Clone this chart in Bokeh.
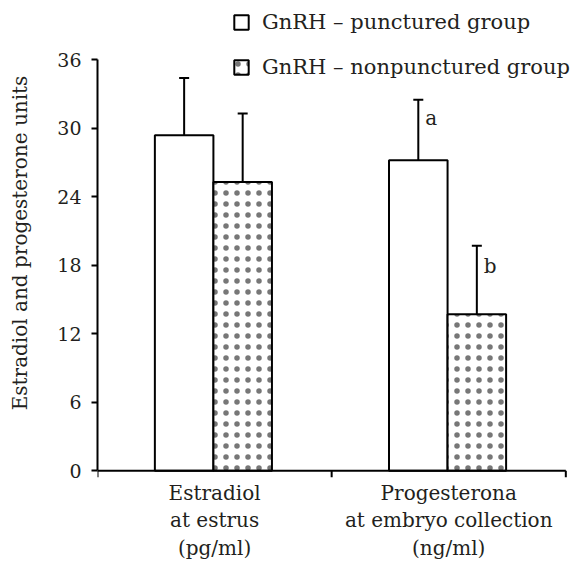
from bokeh.plotting import figure
from bokeh.models import (ColumnDataSource, FixedTicker, Range1d, Legend,
                          LegendItem, Whisker, TeeHead)
from bokeh.core.properties import value
from bokeh.embed import file_html
from bokeh.resources import INLINE

# ---- data ----
groups = ["Estradiol\nat estrus\n(pg/ml)", "Progesterona\nat embryo collection\n(ng/ml)"]
punctured = [29.4, 27.2]
punctured_err = [5.0, 5.3]
nonpunctured = [25.3, 13.7]
nonpunctured_err = [6.0, 6.0]
punctured_sig = ["", "a"]
nonpunctured_sig = ["", "b"]
y_ticks = [0, 6, 12, 18, 24, 30, 36]
y_max = 36
y_title = "Estradiol and progesterone units"
series_names = ["GnRH – punctured group", "GnRH – nonpunctured group"]

FONT = "DejaVu Serif"
TXT = "#231f20"
BW = 0.25
TICK = 0.6  # x-axis tick length in data units

n = len(groups)
idx = list(range(n))
x_p = [i + 0.5 - 0.13 for i in idx]
x_n = [i + 0.5 + 0.12 for i in idx]

src_p = ColumnDataSource(dict(x=x_p, top=punctured, up=[v + e for v, e in zip(punctured, punctured_err)],
                              sig=punctured_sig, sx=[x + 0.03 for x in x_p],
                              sy=[v + e - 1.6 for v, e in zip(punctured, punctured_err)]))
src_n = ColumnDataSource(dict(x=x_n, top=nonpunctured, up=[v + e for v, e in zip(nonpunctured, nonpunctured_err)],
                              sig=nonpunctured_sig, sx=[x + 0.03 for x in x_n],
                              sy=[v + e - 1.8 for v, e in zip(nonpunctured, nonpunctured_err)]))

p = figure(width=583, height=563, output_backend="svg", toolbar_location=None,
           x_range=Range1d(0, n + 0.02), y_range=Range1d(-TICK, 40.5),
           min_border_left=97, min_border_top=8, min_border_right=13, min_border_bottom=85,
           outline_line_color=None, background_fill_color=None, border_fill_color="white")
p.xgrid.visible = False
p.ygrid.visible = False

r1 = p.vbar(x="x", top="top", width=BW, source=src_p, fill_color="white",
            line_color="black", line_width=2)
r2 = p.vbar(x="x", top="top", width=BW, source=src_n, fill_color="white",
            line_color="black", line_width=2, hatch_pattern="dot", hatch_color="#777777",
            hatch_scale=11, hatch_weight=1.0)

# x axis line at zero and boundary ticks
p.segment(x0=[0], y0=[0], x1=[n], y1=[0], line_color="black", line_width=2)
p.segment(x0=list(range(n + 1)), y0=[0] * (n + 1), x1=list(range(n + 1)), y1=[-TICK] * (n + 1),
          line_color="black", line_width=2)

for src in (src_p, src_n):
    w = Whisker(base="x", lower="top", upper="up", source=src, line_color="black", line_width=2,
                upper_head=TeeHead(size=10, line_color="black", line_width=2), lower_head=None)
    p.add_layout(w)
    p.text(x="sx", y="sy", text="sig", source=src, text_font=value(FONT),
           text_font_size="20px", text_color=TXT, text_baseline="alphabetic", text_align="left")

# y axis
yax = p.yaxis[0]
yax.ticker = FixedTicker(ticks=y_ticks)
yax.bounds = (0, y_max)
yax.axis_label = y_title
yax.axis_label_text_font = FONT
yax.axis_label_text_font_style = "normal"
yax.axis_label_text_font_size = "20px"
yax.axis_label_text_color = TXT
yax.axis_label_standoff = 22
yax.major_label_text_font = FONT
yax.major_label_text_font_size = "19px"
yax.major_label_text_color = TXT
yax.major_label_standoff = 10
yax.major_tick_out = 6
yax.major_tick_in = 0
yax.minor_tick_line_color = None
yax.axis_line_width = 2
yax.major_tick_line_width = 2

# x axis: category labels only
xax = p.xaxis[0]
xax.ticker = FixedTicker(ticks=[i + 0.5 for i in idx])
xax.major_label_overrides = {i + 0.5: g for i, g in zip(idx, groups)}
xax.axis_line_color = None
xax.major_tick_line_color = None
xax.minor_tick_line_color = None
xax.major_label_text_font = FONT
xax.major_label_text_font_size = "20px"
xax.major_label_text_color = TXT
xax.major_label_standoff = -3
xax.major_label_text_line_height = 1.16

legend = Legend(items=[LegendItem(label=series_names[0], renderers=[r1]),
                       LegendItem(label=series_names[1], renderers=[r2])],
                location=(135, 398), orientation="vertical",
                label_text_font=FONT, label_text_font_size="21px", label_text_color=TXT,
                glyph_width=18, glyph_height=18, label_height=22, spacing=21,
                label_standoff=12, padding=0, margin=0,
                border_line_color=None, background_fill_alpha=0)
p.add_layout(legend, "center")

open("out.html", "w").write(file_html(p, INLINE))
